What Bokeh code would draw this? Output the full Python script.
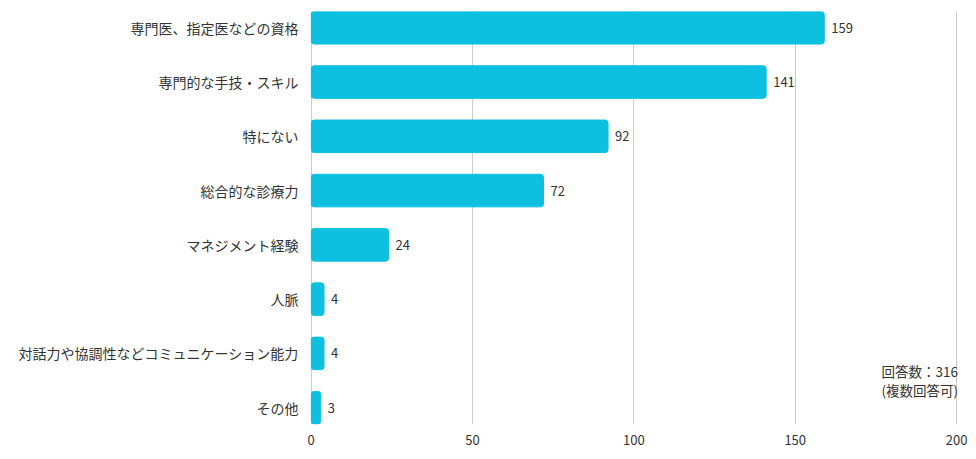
from bokeh.plotting import figure
from bokeh.models import ColumnDataSource, Range1d, FixedTicker, Label
from bokeh.embed import file_html
from bokeh.resources import INLINE
from bokeh.core.properties import value

categories = ["専門医、指定医などの資格", "専門的な手技・スキル", "特にない", "総合的な診療力",
              "マネジメント経験", "人脈", "対話力や協調性などコミュニケーション能力", "その他"]
counts = [159, 141, 92, 72, 24, 4, 4, 3]
x_ticks = [0, 50, 100, 150, 200]
note_lines = ["回答数：316", "(複数回答可)"]

FONT = "Noto Sans CJK JP"
BAR_COLOR = "#0dc0e0"
TEXT_COLOR = "#333333"

ypos = list(range(len(categories)))
src = ColumnDataSource(dict(y=ypos, v=counts, lbl=[str(c) for c in counts]))

p = figure(width=976, height=459, output_backend="svg", toolbar_location=None,
           x_range=Range1d(-0.2, 200.6), y_range=Range1d(7.31, -0.30),
           min_border_left=310, min_border_right=18, min_border_top=11, min_border_bottom=35)
p.outline_line_color = None
p.background_fill_color = "white"

p.hbar(y="y", right="v", left=0, height=0.6, source=src, color=BAR_COLOR,
       border_radius=3)
p.text(x="v", y="y", text="lbl", source=src, x_offset=7, text_baseline="middle",
       text_align="left", text_font=value(FONT), text_font_size="13px", text_color=TEXT_COLOR)

p.xaxis.ticker = FixedTicker(ticks=x_ticks)
p.xaxis.axis_line_color = None
p.xaxis.major_tick_line_color = None
p.xaxis.minor_tick_line_color = None
p.xaxis.major_label_text_font = FONT
p.xaxis.major_label_text_font_size = "13px"
p.xaxis.major_label_text_color = TEXT_COLOR
p.xaxis.major_label_standoff = 4

p.yaxis.ticker = FixedTicker(ticks=ypos)
p.yaxis.major_label_overrides = {i: c for i, c in enumerate(categories)}
p.yaxis.axis_line_color = None
p.yaxis.major_tick_line_color = None
p.yaxis.minor_tick_line_color = None
p.yaxis.major_label_text_font = FONT
p.yaxis.major_label_text_font_size = "14px"
p.yaxis.major_label_text_color = TEXT_COLOR
p.yaxis.major_label_standoff = 6

p.ygrid.grid_line_color = None
p.xgrid.grid_line_color = "#cccccc"
p.xgrid.grid_line_width = 1

p.add_layout(Label(x=200, y=6.32, text=note_lines[0], x_offset=1.5, text_align="right",
                   text_baseline="middle", text_font=FONT, text_font_size="13.5px",
                   text_color=TEXT_COLOR))
p.add_layout(Label(x=200, y=6.67, text=note_lines[1], x_offset=1.5, text_align="right",
                   text_baseline="middle", text_font=FONT, text_font_size="13.5px",
                   text_color=TEXT_COLOR))

open("out.html", "w").write(file_html(p, INLINE))
